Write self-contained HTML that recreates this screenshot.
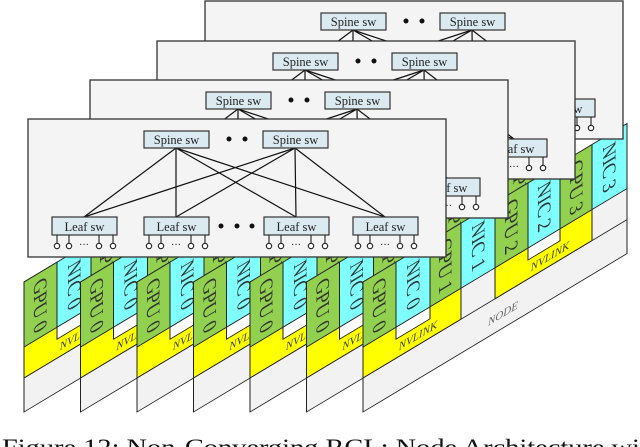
<!DOCTYPE html>
<html><head><meta charset="utf-8"><style>
html,body{margin:0;padding:0;background:#fff;width:640px;height:447px;overflow:hidden}
svg{display:block}
text{font-family:"Liberation Serif",serif}
</style></head><body>
<svg width="640" height="447" viewBox="0 0 640 447" xmlns="http://www.w3.org/2000/svg">
<defs>
<g id="slab" stroke="#222" stroke-width="1">
  <rect x="0" y="-130" width="264" height="130" fill="#f2f2f2"/>
  <rect x="0" y="-65" width="98" height="31" fill="#ffff00"/>
  <rect x="132" y="-65" width="97" height="31" fill="#ffff00"/>
  <rect x="33" y="-65" width="34" height="12" fill="#ffffff"/>
  <rect x="165" y="-65" width="32" height="12" fill="#ffffff"/>
  <line x1="0" y1="-34" x2="264" y2="-34"/>
  <rect x="0" y="-130" width="33" height="65" fill="#92d050"/>
  <rect x="33" y="-130" width="34" height="65" fill="#80ffff"/>
  <rect x="67" y="-130" width="31" height="65" fill="#92d050"/>
  <rect x="98" y="-130" width="34" height="65" fill="#80ffff"/>
  <rect x="132" y="-130" width="33" height="65" fill="#92d050"/>
  <rect x="165" y="-130" width="32" height="65" fill="#80ffff"/>
  <rect x="197" y="-130" width="32" height="65" fill="#92d050"/>
  <rect x="229" y="-130" width="35" height="65" fill="#80ffff"/>
  <g stroke="none" fill="#333" font-size="19" text-anchor="middle">
    <text transform="translate(16,-97) rotate(90)" dy="6">GPU 0</text>
    <text transform="translate(50,-97) rotate(90)" dy="6">NIC 0</text>
    <text transform="translate(82,-97) rotate(90)" dy="6">GPU 1</text>
    <text transform="translate(115,-97) rotate(90)" dy="6">NIC 1</text>
    <text transform="translate(148,-97) rotate(90)" dy="6">GPU 2</text>
    <text transform="translate(181,-97) rotate(90)" dy="6">NIC 2</text>
    <text transform="translate(213,-97) rotate(90)" dy="6">GPU 3</text>
    <text transform="translate(246,-97) rotate(90)" dy="6">NIC 3</text>
  </g>
  <g stroke="none" fill="#444" font-size="11" font-style="italic" text-anchor="middle">
    <text x="55" y="-40">NVLINK</text>
    <text x="187" y="-40">NVLINK</text>
    <text x="140" y="-11" fill="#666">NODE</text>
  </g>
</g>
<g id="panel">
  <rect x="28" y="119" width="418" height="138" fill="#f4f4f4" stroke="#333" stroke-width="1.3"/>
  <g stroke="#111" stroke-width="1.2">
    <line x1="176" y1="148" x2="84" y2="217"/><line x1="176" y1="148" x2="176" y2="217"/>
    <line x1="176" y1="148" x2="296" y2="217"/><line x1="176" y1="148" x2="385" y2="217"/>
    <line x1="295" y1="148" x2="84" y2="217"/><line x1="295" y1="148" x2="176" y2="217"/>
    <line x1="295" y1="148" x2="296" y2="217"/><line x1="295" y1="148" x2="385" y2="217"/>
  </g>
  <g fill="#dbeaf1" stroke="#333" stroke-width="1.2">
    <rect x="144" y="131" width="65" height="17"/><rect x="263" y="131" width="65" height="17"/>
    <rect x="52" y="217" width="65" height="18"/><rect x="144" y="217" width="65" height="18"/>
    <rect x="264" y="217" width="65" height="18"/><rect x="353" y="217" width="65" height="18"/>
  </g>
  <g font-size="12.5" fill="#222" text-anchor="middle">
    <text x="176.5" y="144">Spine sw</text><text x="295.5" y="144">Spine sw</text>
    <text x="84.5" y="231">Leaf sw</text><text x="176.5" y="231">Leaf sw</text>
    <text x="296.5" y="231">Leaf sw</text><text x="385.5" y="231">Leaf sw</text>
  </g>
  <g fill="#111">
    <circle cx="229" cy="139" r="2.5"/><circle cx="245" cy="139" r="2.5"/>
    <circle cx="221" cy="226" r="2.5"/><circle cx="237" cy="226" r="2.5"/><circle cx="252" cy="226" r="2.5"/>
  </g>
  <g id="ports" stroke="#222" stroke-width="1.1" fill="#fff">
    <line x1="57" y1="235" x2="57" y2="243"/><circle cx="57" cy="246" r="2.7"/>
    <line x1="69" y1="235" x2="69" y2="243"/><circle cx="69" cy="246" r="2.7"/>
    <line x1="99" y1="235" x2="99" y2="243"/><circle cx="99" cy="246" r="2.7"/>
    <line x1="113" y1="235" x2="113" y2="243"/><circle cx="113" cy="246" r="2.7"/>
    <text x="84" y="248" font-size="10" fill="#222" stroke="none" text-anchor="middle">···</text>
  </g>
  <use href="#ports" x="92"/><use href="#ports" x="212"/><use href="#ports" x="301"/>
</g>
</defs>
<use href="#slab" transform="matrix(1,-0.6,0,1,24,412)"/>
<use href="#slab" transform="matrix(1,-0.6,0,1,80.5,412)"/>
<use href="#slab" transform="matrix(1,-0.6,0,1,137,412)"/>
<use href="#slab" transform="matrix(1,-0.6,0,1,193.5,412)"/>
<use href="#slab" transform="matrix(1,-0.6,0,1,250,412)"/>
<use href="#slab" transform="matrix(1,-0.6,0,1,306.5,412)"/>
<use href="#slab" transform="matrix(1,-0.6,0,1,363,412)"/>
<use href="#panel" transform="translate(177,-118)"/>
<use href="#panel" transform="translate(129,-78)"/>
<use href="#panel" transform="translate(62,-39)"/>
<use href="#panel"/>
<text x="2" y="455" font-size="23" fill="#111" textLength="660" lengthAdjust="spacingAndGlyphs">Figure 12:  Non-Converging RCL: Node Architecture with</text>
</svg>
</body></html>
